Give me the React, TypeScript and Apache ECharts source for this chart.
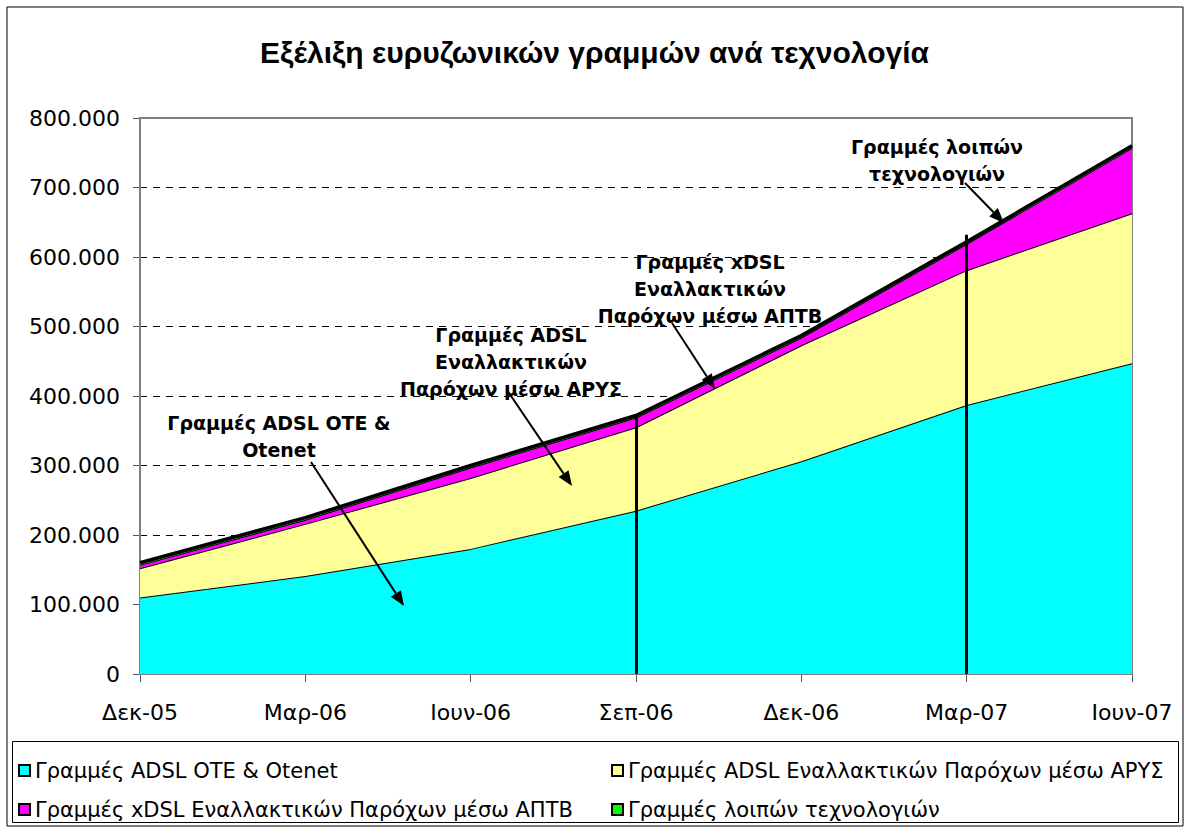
import React, { useEffect, useRef } from "react";
import * as echarts from "echarts";

const categories = ["Δεκ-05", "Μαρ-06", "Ιουν-06", "Σεπ-06", "Δεκ-06", "Μαρ-07", "Ιουν-07"];
const adslOte = [110000, 141000, 180000, 235000, 306000, 387000, 447000];
const adslAlt = [42000, 75000, 102000, 120000, 167000, 194000, 216000];
const xdslAlt = [5000, 6000, 15000, 14000, 11000, 38000, 94000];
const otherTech = [3000, 3000, 3000, 3000, 3000, 3000, 3000];
const seriesNames = [
  "Γραμμές ADSL OTE & Otenet",
  "Γραμμές ADSL Εναλλακτικών Παρόχων μέσω ΑΡΥΣ",
  "Γραμμές xDSL Εναλλακτικών Παρόχων μέσω ΑΠΤΒ",
  "Γραμμές λοιπών τεχνολογιών",
];

const fmt = (v: number) => (v === 0 ? "0" : String(v).replace(/\B(?=(\d{3})+(?!\d))/g, "."));

function arrow(x1: number, y1: number, x2: number, y2: number) {
  const dx = x2 - x1, dy = y2 - y1;
  const len = Math.sqrt(dx * dx + dy * dy);
  const ux = dx / len, uy = dy / len;
  const hl = 15, hw = 6;
  const bx = x2 - ux * hl, by = y2 - uy * hl;
  return [
    { type: "line", z: 10, shape: { x1, y1, x2: bx, y2: by }, style: { stroke: "#000", lineWidth: 2 } },
    {
      type: "polygon",
      z: 10,
      shape: { points: [[x2, y2], [bx - uy * hw, by + ux * hw], [bx + uy * hw, by - ux * hw]] },
      style: { fill: "#000" },
    },
  ];
}

function note(text: string, x: number, y: number) {
  return {
    type: "text",
    z: 10,
    x,
    y,
    style: {
      text,
      fill: "#000",
      font: "bold 19px 'DejaVu Sans'",
      align: "center",
      verticalAlign: "middle",
      lineHeight: 27,
    },
  };
}

export default function App() {
  const ref = useRef<HTMLDivElement>(null);
  useEffect(() => {
    if (!ref.current) return;
    const chart = echarts.init(ref.current, undefined, { renderer: "svg" });
    const colors = ["#00FFFF", "#FFFF99", "#FF00FF", "#00FF00"];
    const datas = [adslOte, adslAlt, xdslAlt, otherTech];
    const font = "'DejaVu Sans', Verdana, sans-serif";
    const legendText = { fontFamily: font, fontSize: 21, color: "#000", lineHeight: 20 };
    chart.setOption({
      animation: false,
      backgroundColor: "#fff",
      title: {
        text: "Εξέλιξη ευρυζωνικών γραμμών ανά τεχνολογία",
        left: "center",
        top: 32,
        textStyle: { fontFamily: "'Liberation Sans', Arial, sans-serif", fontWeight: "bold", fontSize: 30, color: "#000" },
      },
      grid: { left: 140, right: 57, top: 118, bottom: 156, show: false },
      legend: [
        {
          data: [seriesNames[0], seriesNames[2]],
          orient: "vertical",
          left: 13,
          top: 755,
          itemWidth: 11,
          itemHeight: 11,
          itemGap: 18,
          icon: "rect",
          textStyle: legendText,
        },
        {
          data: [seriesNames[1], seriesNames[3]],
          orient: "vertical",
          left: 606,
          top: 755,
          itemWidth: 11,
          itemHeight: 11,
          itemGap: 18,
          icon: "rect",
          textStyle: legendText,
        },
      ],
      xAxis: {
        type: "category",
        data: categories,
        boundaryGap: false,
        axisLine: { lineStyle: { color: "#000", width: 2 } },
        axisTick: { show: true, length: 8, lineStyle: { color: "#555", width: 1 } },
        axisLabel: { fontFamily: font, fontSize: 22, color: "#000", margin: 27 },
      },
      yAxis: {
        type: "value",
        min: 0,
        max: 800000,
        interval: 100000,
        axisLine: { show: true, lineStyle: { color: "#333", width: 1 } },
        axisTick: { show: true, length: 7, lineStyle: { color: "#555" } },
        axisLabel: { fontFamily: font, fontSize: 22, color: "#000", margin: 20, formatter: (v: number) => fmt(v) },
        splitLine: { show: true, lineStyle: { color: "#000", type: [7, 6], width: 1 } },
      },
      series: datas.map((d, i) => ({
        name: seriesNames[i],
        type: "line",
        stack: "total",
        data: d,
        symbol: "none",
        color: colors[i],
        itemStyle: { color: colors[i], borderColor: "#000", borderWidth: 1 },
        lineStyle: { color: "#000", width: i === 3 ? 3.5 : 2 },
        areaStyle: { color: colors[i], opacity: 1 },
        z: 2 + i,
        markLine:
          i === 0
            ? {
                silent: true,
                symbol: "none",
                label: { show: false },
                lineStyle: { color: "#000", width: 3, type: "solid" },
                data: [
                  [{ coord: [categories[3], 0] }, { coord: [categories[3], 372000] }],
                  [{ coord: [categories[5], 0] }, { coord: [categories[5], 632000] }],
                ],
                z: 20,
              }
            : undefined,
      })),
      graphic: [
        { type: "rect", z: -1, shape: { x: 7, y: 7, width: 1176, height: 819 }, style: { fill: "none", stroke: "#000", lineWidth: 1 } },
        { type: "rect", z: 1, shape: { x: 140, y: 118, width: 992, height: 556 }, style: { fill: "none", stroke: "#808080", lineWidth: 2 } },
        { type: "rect", z: 1, shape: { x: 12.5, y: 741.5, width: 1166, height: 81 }, style: { fill: "none", stroke: "#000", lineWidth: 1 } },
        note("Γραμμές ADSL OTE &\nOtenet", 279, 436),
        ...arrow(311, 462, 404, 606),
        note("Γραμμές ADSL\nΕναλλακτικών\nΠαρόχων μέσω ΑΡΥΣ", 511, 362),
        ...arrow(507, 390, 572, 486),
        note("Γραμμές xDSL\nΕναλλακτικών\nΠαρόχων μέσω ΑΠΤΒ", 710, 289),
        ...arrow(672, 323, 715, 389),
        note("Γραμμές λοιπών\nτεχνολογιών", 937, 160),
        ...arrow(965, 183, 1004, 223),
      ],
    });
    return () => chart.dispose();
  }, []);
  return <div ref={ref} style={{ position: "fixed", left: 0, top: 0, width: 1189, height: 830 }} />;
}
